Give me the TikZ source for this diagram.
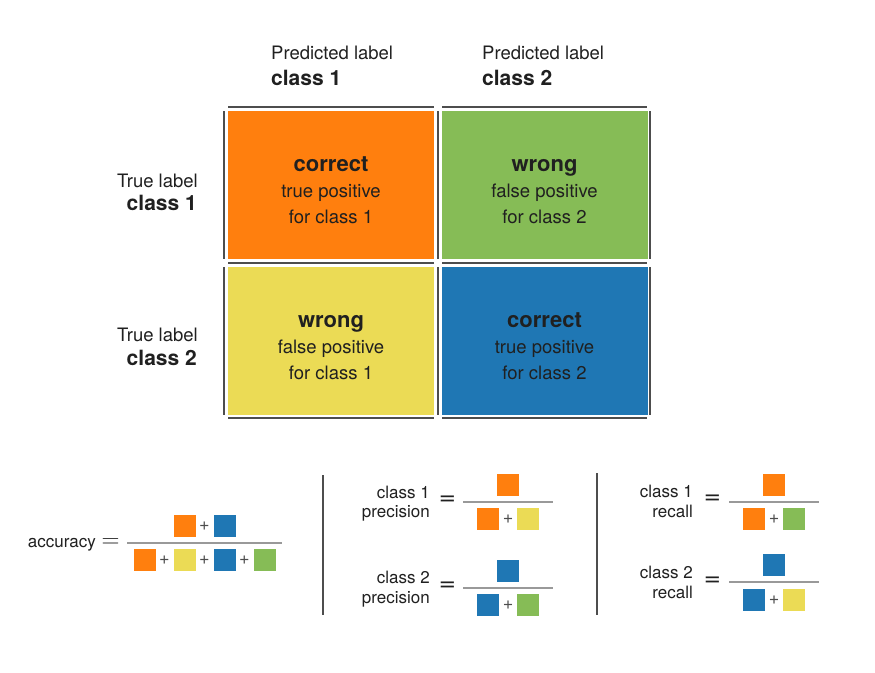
\documentclass[tikz,border=0pt]{standalone}
\usepackage{fontspec}
\setmainfont{TeX Gyre Heros}
\newfontfamily\eqfont{DejaVu Sans}
\definecolor{corange}{HTML}{FF7F0E}
\definecolor{cgreen}{HTML}{86BC56}
\definecolor{cyellow}{HTML}{EBDB55}
\definecolor{cblue}{HTML}{1F77B4}
\definecolor{gridc}{HTML}{4D4D4D}
\definecolor{fracc}{HTML}{999999}
\definecolor{txt}{HTML}{202020}
\begin{document}
\begin{tikzpicture}[x=1pt,y=-1pt,
  cell/.style={minimum width=206pt,minimum height=148pt,inner sep=0pt,draw=none},
  celltitle/.style={anchor=base,inner sep=0pt,text=txt,font=\fontsize{22}{26}\selectfont\bfseries},
  celltext/.style={anchor=base,inner sep=0pt,text=txt,font=\fontsize{18.5}{22}\selectfont},
  hdr/.style={anchor=base west,inner sep=0pt,text=txt,font=\fontsize{18.5}{22}\selectfont},
  hdrbold/.style={anchor=base west,inner sep=0pt,text=txt,font=\fontsize{21}{25}\selectfont\bfseries},
  side/.style={anchor=base east,inner sep=0pt,text=txt,font=\fontsize{18.5}{22}\selectfont},
  sidebold/.style={anchor=base east,inner sep=0pt,text=txt,font=\fontsize{21}{25}\selectfont\bfseries},
  ftext/.style={anchor=base east,inner sep=0pt,text=txt,font=\fontsize{17}{20}\selectfont},
  eqbig/.style={inner sep=0pt,text=txt,font=\fontsize{29}{29}\selectfont},
  eqsm/.style={inner sep=0pt,text=txt,font=\eqfont\fontsize{21}{21}\selectfont},
  sq/.style={minimum size=22pt,inner sep=0pt,draw=none},
  plus/.style={inner sep=0pt,text=gridc,font=\fontsize{18}{18}\selectfont},
  gridline/.style={draw=gridc,line width=2pt},
  fracline/.style={draw=fracc,line width=2pt},
  sepline/.style={draw=gridc,line width=2pt}
]
\useasboundingbox (0,0) rectangle (875,672);
\fill[white] (0,0) rectangle (875,672);

% header labels
\node[hdr] (p1) at (271,59) {Predicted label};
\node[hdrbold] (p1c) at (271,85) {class 1};
\node[hdr] (p2) at (482,59) {Predicted label};
\node[hdrbold] (p2c) at (482,85) {class 2};
\node[side] (t1) at (198,187) {True label};
\node[sidebold] (t1c) at (197,210) {class 1};
\node[side] (t2) at (198,341) {True label};
\node[sidebold] (t2c) at (197,365) {class 2};

% cells
\node[cell,fill=corange] (c11) at (331,185) {};
\node[cell,fill=cgreen] (c12) at (544.5,185) {};
\node[cell,fill=cyellow] (c21) at (331,340.5) {};
\node[cell,fill=cblue] (c22) at (544.5,340.5) {};

\node[celltitle] (c11a) at (331,171) {correct};
\node[celltext] (c11b) at (331,197) {true positive};
\node[celltext] (c11c) at (331,223) {for class 1};
\node[celltitle] (c12a) at (544.5,171) {wrong};
\node[celltext] (c12b) at (544.5,197) {false positive};
\node[celltext] (c12c) at (544.5,223) {for class 2};
\node[celltitle] (c21a) at (331,327) {wrong};
\node[celltext] (c21b) at (331,353) {false positive};
\node[celltext] (c21c) at (331,379) {for class 1};
\node[celltitle] (c22a) at (544.5,327) {correct};
\node[celltext] (c22b) at (544.5,353) {true positive};
\node[celltext] (c22c) at (544.5,379) {for class 2};

% grid lines
\foreach \yy in {107,263,418}{
  \draw[gridline] (228,\yy) -- (434,\yy);
  \draw[gridline] (442,\yy) -- (647,\yy);
}
\foreach \xx in {224,438,650}{
  \draw[gridline] (\xx,111) -- (\xx,259);
  \draw[gridline] (\xx,267) -- (\xx,415);
}

% accuracy
\node[ftext] (acc) at (96,547) {accuracy};
\node[eqbig] (acceq) at (110.5,543) {$=$};
\draw[fracline] (127,543) -- (282,543);
\node[sq,fill=corange] (an1) at (184.5,526) {};
\node[plus] (anp) at (204.5,526) {+};
\node[sq,fill=cblue] (an2) at (224.5,526) {};
\node[sq,fill=corange] (ad1) at (144.5,560) {};
\node[plus] (adp1) at (164.5,560) {+};
\node[sq,fill=cyellow] (ad2) at (184.5,560) {};
\node[plus] (adp2) at (204.5,560) {+};
\node[sq,fill=cblue] (ad3) at (224.5,560) {};
\node[plus] (adp3) at (244.5,560) {+};
\node[sq,fill=cgreen] (ad4) at (264.5,560) {};

% separators
\draw[sepline] (323,475) -- (323,615);
\draw[sepline] (597,473) -- (597,615);

% precision class 1
\node[ftext] (pr1a) at (430,498) {class 1};
\node[ftext] (pr1b) at (430,517) {precision};
\node[eqsm] (pr1eq) at (447.5,501) {=};
\draw[fracline] (463,502) -- (553,502);
\node[sq,fill=corange] (pr1n) at (508,485) {};
\node[sq,fill=corange] (pr1d1) at (488,519) {};
\node[plus] (pr1p) at (508,519) {+};
\node[sq,fill=cyellow] (pr1d2) at (528,519) {};

% precision class 2
\node[ftext] (pr2a) at (430,583) {class 2};
\node[ftext] (pr2b) at (430,603) {precision};
\node[eqsm] (pr2eq) at (447.5,587) {=};
\draw[fracline] (463,588) -- (553,588);
\node[sq,fill=cblue] (pr2n) at (508,571) {};
\node[sq,fill=cblue] (pr2d1) at (488,605) {};
\node[plus] (pr2p) at (508,605) {+};
\node[sq,fill=cgreen] (pr2d2) at (528,605) {};

% recall class 1
\node[ftext] (re1a) at (693,497) {class 1};
\node[ftext] (re1b) at (693,517) {recall};
\node[eqsm] (re1eq) at (712.5,500) {=};
\draw[fracline] (729,502) -- (819,502);
\node[sq,fill=corange] (re1n) at (774,485) {};
\node[sq,fill=corange] (re1d1) at (754,519) {};
\node[plus] (re1p) at (774,519) {+};
\node[sq,fill=cgreen] (re1d2) at (794,519) {};

% recall class 2
\node[ftext] (re2a) at (693,578) {class 2};
\node[ftext] (re2b) at (693,598) {recall};
\node[eqsm] (re2eq) at (712.5,582) {=};
\draw[fracline] (729,582) -- (819,582);
\node[sq,fill=cblue] (re2n) at (774,565) {};
\node[sq,fill=cblue] (re2d1) at (754,600) {};
\node[plus] (re2p) at (774,600) {+};
\node[sq,fill=cyellow] (re2d2) at (794,600) {};
\end{tikzpicture}
\end{document}
